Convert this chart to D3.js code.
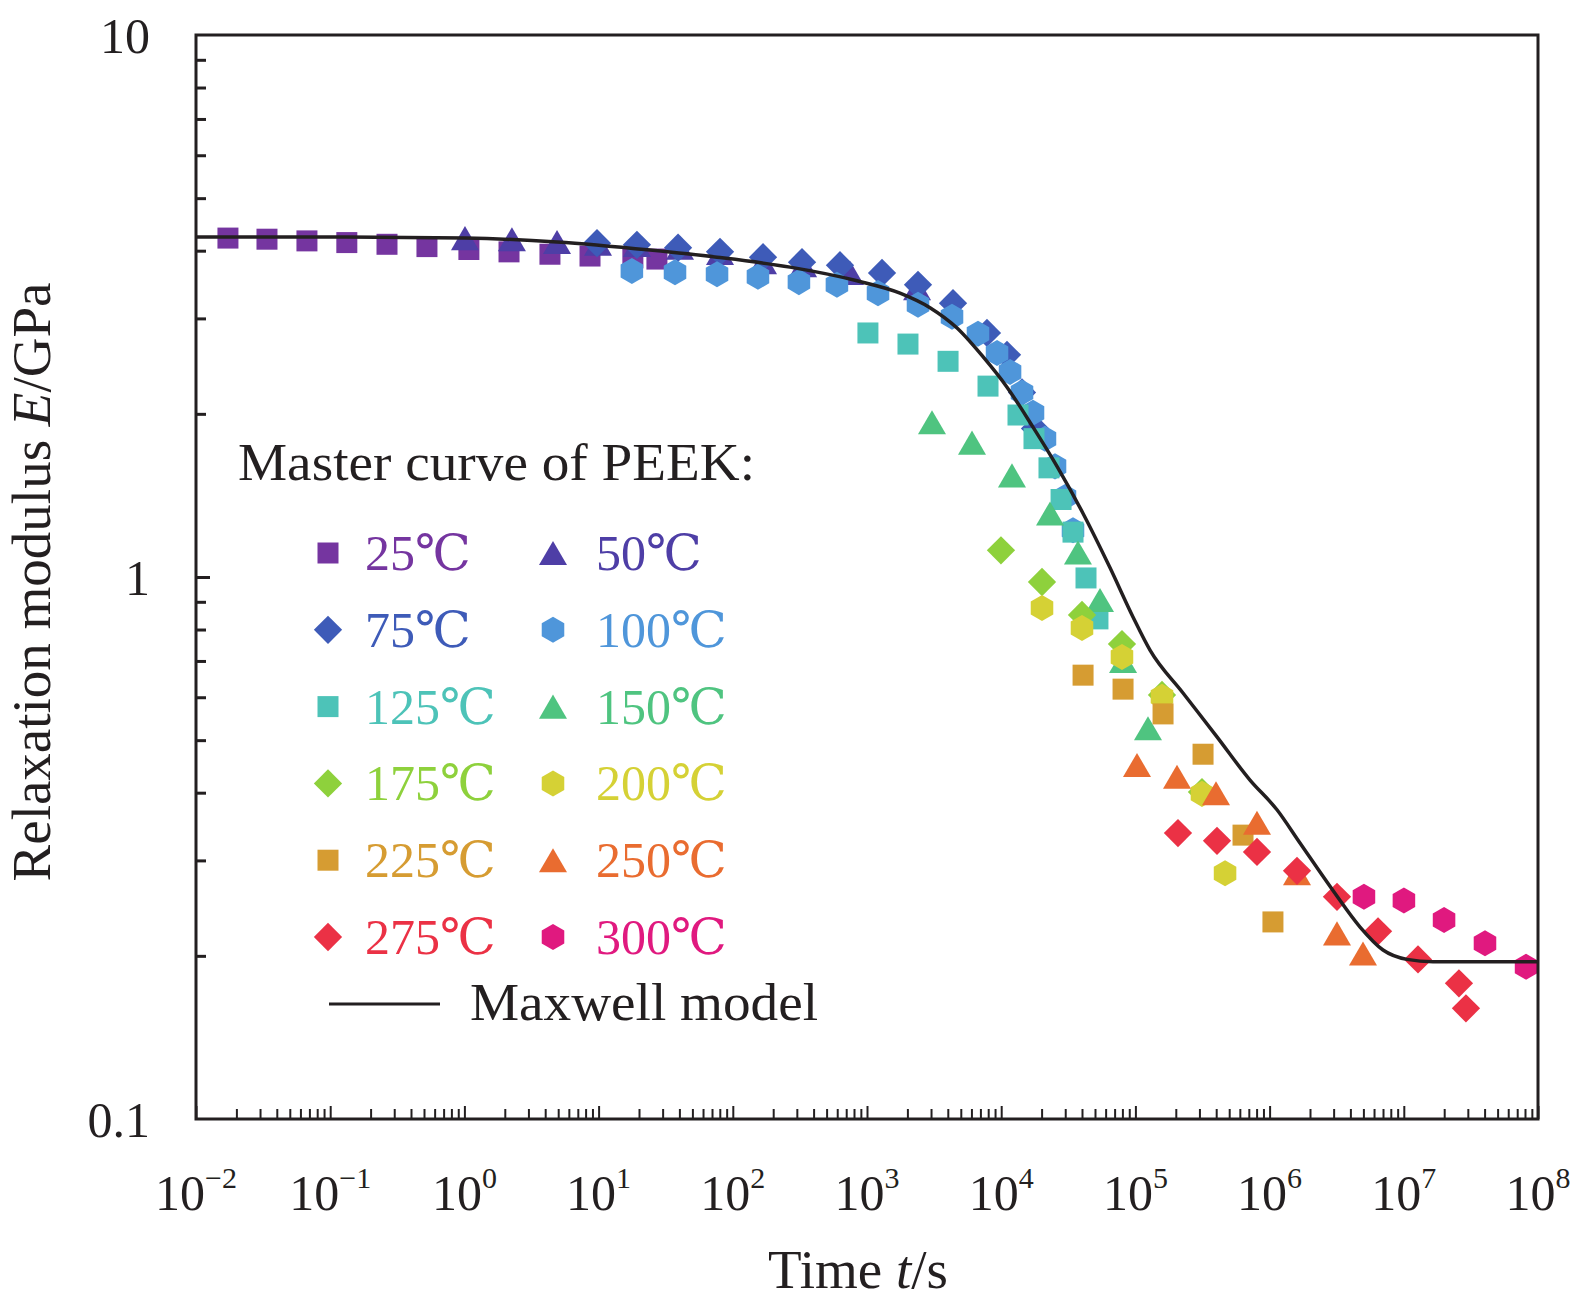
<!DOCTYPE html>
<html><head><meta charset="utf-8">
<script src="https://cdn.jsdelivr.net/npm/d3@7"></script>
<style>
body{margin:0;background:#fff}
svg{display:block}
text{font-family:"Liberation Serif","Times New Roman","DejaVu Serif",serif;fill:#231f20}
</style>
</head><body><svg id="c" width="1575" height="1315"></svg>
<script>
// ---------- data (t in s, E in GPa) ----------
const temps = ["25","50","75","100","125","150","175","200","225","250","275","300"];
const colors = ["#7535a0","#4e3ea6","#3e5bb8","#4f96da","#4dc3b8","#4fc480","#8ed13c","#d5d135","#d69c32","#e96c30","#eb3145","#e0197f"];
const shapes = ["square","triangle","diamond","hexagon","square","triangle","diamond","hexagon","square","triangle","diamond","hexagon"];

const t25 = [0.0173,0.0338,0.0671,0.133,0.265,0.526,1.08,2.15,4.34,8.63,18.0,27.2];
const E25 = [4.22,4.20,4.17,4.14,4.11,4.07,4.02,3.98,3.94,3.91,3.88,3.86];
const t50 = [1.01,2.26,4.90,9.9,19.3,40.4,80.3,168,334,747,2360];
const E50 = [4.22,4.20,4.15,4.12,4.10,4.05,3.96,3.81,3.76,3.64,3.41];
const t75 = [9.73,19.3,39.1,80.3,168,328,629,1294,2399,4375,7834,11050,14290,17870];
const E75 = [4.13,4.10,4.05,3.98,3.89,3.81,3.76,3.64,3.46,3.20,2.82,2.57,2.19,1.88];
const t100 = [17.7,37.1,76.3,154,311,597,1208,2399,4300,6714,9310,11640,14290,17260,21190,25180,29870,34280];
const E100 = [3.67,3.65,3.62,3.58,3.50,3.46,3.34,3.18,3.02,2.81,2.59,2.39,2.19,2.01,1.80,1.60,1.405,1.22];
const t125 = [1016,2020,4018,7975,13340,17550,22700,27930,34280,42850,52600];
const E125 = [2.82,2.69,2.50,2.25,1.99,1.80,1.59,1.39,1.21,0.996,0.837];
const t150 = [3050,6060,12030,23110,37330,54480,80900,124100];
const E150 = [1.93,1.77,1.54,1.31,1.11,0.907,0.700,0.526];
const t175 = [9960,20140,40000,79430,157800,313400];
const E175 = [1.12,0.979,0.851,0.752,0.606,0.401];
const t200 = [20140,40000,79430,157800,313400,465600];
const E200 = [0.877,0.805,0.712,0.601,0.398,0.284];
const t225 = [40740,80900,160700,319200,633800,1059000];
const E225 = [0.659,0.621,0.559,0.471,0.334,0.231];
const t250 = [102800,204200,398800,805400,1600000,3178000,4966000];
const E250 = [0.450,0.428,0.399,0.352,0.284,0.220,0.202];
const t275 = [207600,405500,805400,1600000,3178000,6427000,12760000,25760000,29050000];
const E275 = [0.337,0.326,0.311,0.287,0.257,0.222,0.197,0.178,0.160];
const t300 = [5047000,10020000,19950000,40270000,81470000];
const E300 = [0.257,0.253,0.233,0.211,0.191];

const tModel = [0.01,0.1,1.01,4.90,24.2,76.2,267,842,1762,2946,4688,7311,11050,17260,26060,40740,64710,95950,128500,226300,405500,714500,1135000,1684000,2966000,4721000,7000000,10570000,16500000,1e8];
const EModel = [4.24,4.24,4.22,4.15,4.01,3.89,3.73,3.52,3.34,3.14,2.88,2.55,2.24,1.89,1.60,1.31,1.04,0.844,0.733,0.611,0.507,0.422,0.372,0.323,0.264,0.226,0.205,0.197,0.195,0.195];

const xMajor = [-2,-1,0,1,2,3,4,5,6,7,8];
const yMajorLabels = ["0.1","1","10"];
const yMajor = [0.1,1,10];

const seriesT = [t25,t50,t75,t100,t125,t150,t175,t200,t225,t250,t275,t300];
const seriesE = [E25,E50,E75,E100,E125,E150,E175,E200,E225,E250,E275,E300];

// ---------- layout ----------
const L = 196, R = 1538, T = 35, B = 1119;
const svg = d3.select("#c");
const x = d3.scaleLog().domain([1e-2,1e8]).range([L,R]);
const y = d3.scaleLog().domain([0.1,10]).range([B,T]);
const ink = "#231f20";

// custom symbols
const symbolTypes = {
  square: {draw(c,s){const h=Math.sqrt(s)/2;c.rect(-h,-h,2*h,2*h);}},
  diamond:{draw(c,s){const h=Math.sqrt(s/2);c.moveTo(0,-h);c.lineTo(h,0);c.lineTo(0,h);c.lineTo(-h,0);c.closePath();}},
  triangle:{draw(c,s){const w=Math.sqrt(s)*1.52,hh=w*0.43;c.moveTo(0,-hh);c.lineTo(w/2,hh);c.lineTo(-w/2,hh);c.closePath();}},
  hexagon:{draw(c,s){const r=Math.sqrt(s)*0.56;for(let k=0;k<6;k++){const a=-Math.PI/2+k*Math.PI/3;const px=r*Math.cos(a),py=r*Math.sin(a);k?c.lineTo(px,py):c.moveTo(px,py);}c.closePath();}}
};
const symSize = {square:441, diamond:400, triangle:340, hexagon:540};
const sym = s => d3.symbol().type(symbolTypes[s]).size(symSize[s])();

// ---------- axes ----------
const minors = [];
for (let e=-2;e<8;e++) for (let m=2;m<=9;m++) minors.push(m*Math.pow(10,e));
const yMinors = [];
for (let e=-1;e<1;e++) for (let m=2;m<=9;m++) yMinors.push(m*Math.pow(10,e));

const gx = svg.append("g").attr("transform",`translate(0,${B})`);
gx.append("g").call(d3.axisBottom(x).tickValues(minors).tickSizeInner(-10).tickSizeOuter(0).tickFormat(""));
gx.append("g").call(d3.axisBottom(x).tickValues(xMajor.map(e=>Math.pow(10,e))).tickSizeInner(-13).tickSizeOuter(0).tickFormat(""));
gx.selectAll("path.domain").remove();
gx.selectAll("line").attr("stroke",ink).attr("stroke-width",2);

const gy = svg.append("g").attr("transform",`translate(${L},0)`);
gy.append("g").call(d3.axisLeft(y).tickValues(yMinors).tickSizeInner(-10).tickSizeOuter(0).tickFormat(""));
gy.append("g").call(d3.axisLeft(y).tickValues([1]).tickSizeInner(-14).tickSizeOuter(0).tickFormat(""));
gy.selectAll("path.domain").remove();
gy.selectAll("line").attr("stroke",ink).attr("stroke-width",3);

// x labels
const xl = svg.append("g").selectAll("text").data(xMajor).join("text")
  .attr("x",d=>x(Math.pow(10,d))).attr("y",1210)
  .attr("text-anchor","middle").attr("font-size",50);
xl.append("tspan").text("10");
xl.append("tspan").attr("font-size",30).attr("dy",-22).text(d=>d<0?"\u2212"+(-d):String(d));

// y labels
svg.append("g").selectAll("text").data(yMajor).join("text")
  .attr("x",150).attr("y",d=>y(d)).attr("dy","0.35em")
  .attr("text-anchor","end").attr("font-size",50)
  .text((d,i)=>yMajorLabels[i]);

// titles
const xt = svg.append("text").attr("x",858).attr("y",1288).attr("text-anchor","middle").attr("font-size",55);
xt.append("tspan").text("Time ");
xt.append("tspan").attr("font-style","italic").text("t");
xt.append("tspan").text("/s");

const yt = svg.append("text").attr("transform","translate(50,582) rotate(-90)").attr("text-anchor","middle").attr("font-size",55);
yt.append("tspan").text("Relaxation modulus ");
yt.append("tspan").attr("font-style","italic").text("E");
yt.append("tspan").text("/GPa");

// ---------- markers ----------
const gm = svg.append("g");
temps.forEach((tp,i)=>{
  const pts = seriesT[i].map((t,j)=>[t,seriesE[i][j]]);
  gm.append("g").selectAll("path").data(pts).join("path")
    .attr("d",sym(shapes[i]))
    .attr("transform",d=>`translate(${x(d[0])},${y(d[1])})`)
    .attr("fill",colors[i]);
});

// model curve
const modelPts = tModel.map((t,j)=>[t,EModel[j]]);
svg.append("path").datum(modelPts)
  .attr("d",d3.line().x(d=>x(d[0])).y(d=>y(d[1])).curve(d3.curveMonotoneX))
  .attr("fill","none").attr("stroke",ink).attr("stroke-width",3.5);

// frame
svg.append("rect").attr("x",L).attr("y",T).attr("width",R-L).attr("height",B-T)
  .attr("fill","none").attr("stroke",ink).attr("stroke-width",3);

// ---------- legend ----------
const lg = svg.append("g");
lg.append("text").attr("x",238).attr("y",480).attr("font-size",53)
  .attr("textLength",517).attr("lengthAdjust","spacingAndGlyphs").text("Master curve of PEEK:");
const rowY = r => 553 + r*76.8;
const colSym = [328,553], colTxt = [365,596];
temps.forEach((tp,i)=>{
  const r = Math.floor(i/2), c = i%2;
  lg.append("path").attr("d",sym(shapes[i])).attr("transform",`translate(${colSym[c]},${rowY(r)})`).attr("fill",colors[i]);
  lg.append("text").attr("x",colTxt[c]).attr("y",rowY(r)+17).attr("font-size",50).style("fill",colors[i]).text(tp+"\u2103");
});
lg.append("line").attr("x1",329).attr("x2",440).attr("y1",1004).attr("y2",1004).attr("stroke",ink).attr("stroke-width",3);
lg.append("text").attr("x",470).attr("y",1020).attr("font-size",53)
  .attr("textLength",348).attr("lengthAdjust","spacingAndGlyphs").text("Maxwell model");
</script>
</body></html>
